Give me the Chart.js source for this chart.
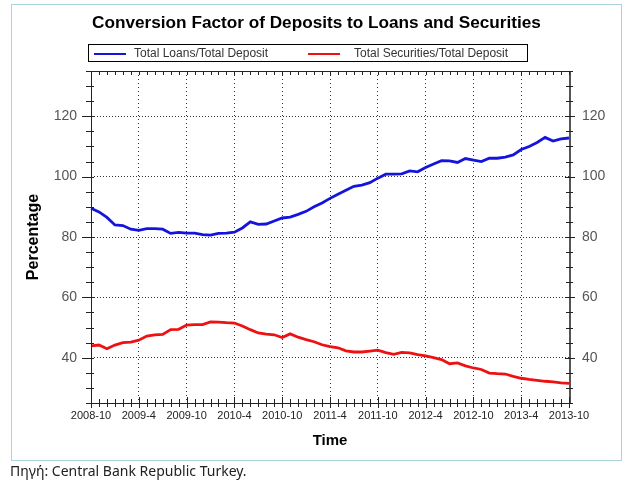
<!DOCTYPE html>
<html>
<head>
<meta charset="utf-8">
<script src="https://cdn.jsdelivr.net/npm/chart.js@4.4.1/dist/chart.umd.min.js"></script>
<style>
  html, body { margin:0; padding:0; background:#fff; }
  #page { position:relative; width:634px; height:483px; overflow:hidden; background:#fff; }
  #frame { position:absolute; left:11px; top:4px; width:611px; height:457px; box-sizing:border-box; border:1px solid #a9d3df; }
  #chart { position:absolute; left:0; top:0; }
  #title { position:absolute; left:0; top:12px; width:633px; text-align:center; font:bold 17.2px "Liberation Sans", Arial, sans-serif; color:#000; }
  #legend { position:absolute; left:88px; top:44px; width:440px; height:18px; box-sizing:border-box; border:1px solid #000; font:12px "Liberation Sans", Arial, sans-serif; color:#333; }
  .lg { position:absolute; top:1px; height:14px; line-height:14px; white-space:nowrap; }
  .lg i { position:absolute; left:0; top:7px; width:32px; height:2px; }
  .lg span { position:absolute; top:0; }
  #footer { position:absolute; left:10px; top:461px; font:14px "Noto Sans", "Open Sans", sans-serif; color:#222; white-space:nowrap; }
</style>
</head>
<body>
<div id="page">
  <div id="frame"></div>
  <canvas id="chart" width="634" height="483"></canvas>
  <div id="title">Conversion Factor of Deposits to Loans and Securities</div>
  <div id="legend"></div>
  <div id="footer">Πηγή: Central Bank Republic Turkey.</div>
</div>
<script>
const months = [
  '2008-10','2008-11','2008-12',
  '2009-1','2009-2','2009-3','2009-4','2009-5','2009-6','2009-7','2009-8','2009-9','2009-10','2009-11','2009-12',
  '2010-1','2010-2','2010-3','2010-4','2010-5','2010-6','2010-7','2010-8','2010-9','2010-10','2010-11','2010-12',
  '2011-1','2011-2','2011-3','2011-4','2011-5','2011-6','2011-7','2011-8','2011-9','2011-10','2011-11','2011-12',
  '2012-1','2012-2','2012-3','2012-4','2012-5','2012-6','2012-7','2012-8','2012-9','2012-10','2012-11','2012-12',
  '2013-1','2013-2','2013-3','2013-4','2013-5','2013-6','2013-7','2013-8','2013-9','2013-10'
];
const xTickLabels = ['2008-10','2009-4','2009-10','2010-4','2010-10','2011-4','2011-10','2012-4','2012-10','2013-4','2013-10'];
const yTicks = [40, 60, 80, 100, 120];

const loansToDeposit = [
  89.5, 88.3, 86.5,
  84.0, 83.8, 82.6, 82.2, 82.8, 82.8, 82.6, 81.2, 81.5, 81.3, 81.3, 80.8,
  80.6, 81.2, 81.3, 81.6, 83.0, 85.0, 84.2, 84.3, 85.3, 86.3, 86.6, 87.5,
  88.5, 90.0, 91.3, 92.8, 94.2, 95.5, 96.8, 97.2, 98.0, 99.5, 100.8, 100.8,
  100.9, 101.9, 101.6, 103.0, 104.2, 105.3, 105.2, 104.7, 106.0, 105.5, 105.0, 106.1,
  106.1, 106.5, 107.2, 109.0, 110.0, 111.3, 113.0, 111.8, 112.5, 112.8, 113.3
];
const securitiesToDeposit = [
  43.9, 44.2, 43.0,
  44.2, 45.0, 45.2, 45.8, 47.2, 47.6, 47.7, 49.3, 49.4, 50.8, 51.0, 51.0,
  51.9, 51.8, 51.6, 51.5, 50.5, 49.3, 48.2, 47.8, 47.6, 46.7, 47.9, 46.8,
  46.0, 45.3, 44.3, 43.7, 43.3, 42.3, 41.9, 41.9, 42.2, 42.5, 41.7, 41.1,
  41.8, 41.6, 41.0, 40.6, 40.0, 39.4, 38.0, 38.3, 37.3, 36.6, 36.1, 34.9,
  34.7, 34.6, 33.8, 33.2, 32.8, 32.5, 32.2, 32.0, 31.7, 31.5
];
const seriesNames = ['Total Loans/Total Deposit', 'Total Securities/Total Deposit'];
const seriesColors = ['#1414dc', '#ee1111'];

const datasets = [loansToDeposit, securitiesToDeposit].map((d, i) => ({
  label: seriesNames[i],
  data: d.slice(0, months.length),
  borderColor: seriesColors[i],
  backgroundColor: seriesColors[i],
  borderWidth: 2.8,
  pointRadius: 0,
  tension: 0,
  fill: false
}));

const legendEl = document.getElementById('legend');
const legendPos = [{line:5, text:45}, {line:219, text:265}];
datasets.forEach((ds, i) => {
  const item = document.createElement('div');
  item.className = 'lg';
  item.style.left = legendPos[i].line + 'px';
  item.innerHTML = '<i style="background:' + ds.borderColor + '"></i><span style="left:' + (legendPos[i].text - legendPos[i].line) + 'px">' + ds.label + '</span>';
  legendEl.appendChild(item);
});

const isMajor = (i) => xTickLabels.indexOf(months[i]) !== -1;

const frameTicks = {
  id: 'frameTicks',
  afterDatasetsDraw(chart) {
    const {ctx, chartArea: a, scales} = chart;
    const x = scales.x, y = scales.y;
    ctx.save();
    ctx.strokeStyle = '#222';
    ctx.lineWidth = 1;
    ctx.setLineDash([]);
    ctx.beginPath();
    ctx.moveTo(a.left + 0.5, a.top + 0.5);
    ctx.lineTo(a.right + 0.5, a.top + 0.5);
    ctx.moveTo(a.left + 0.5, a.top);
    ctx.lineTo(a.left + 0.5, a.bottom + 0.5);
    ctx.lineTo(a.right + 0.5, a.bottom + 0.5);
    ctx.stroke();
    ctx.strokeStyle = '#555';
    ctx.lineWidth = 2;
    ctx.beginPath();
    ctx.moveTo(a.right + 1, a.top);
    ctx.lineTo(a.right + 1, a.bottom + 1);
    ctx.stroke();
    ctx.strokeStyle = '#222';
    ctx.lineWidth = 1;
    ctx.beginPath();
    for (let i = 0; i < months.length; i++) {
      const px = Math.round(x.getPixelForValue(i)) + 0.5;
      const major = isMajor(i);
      ctx.moveTo(px, a.bottom - (major ? 6 : 4));
      ctx.lineTo(px, a.bottom + (major ? 5 : 4));
      ctx.moveTo(px, a.top);
      ctx.lineTo(px, a.top + 4);
    }
    for (let v = 25; v <= 135; v += 5) {
      const py = Math.round(y.getPixelForValue(v)) + 0.5;
      const major = yTicks.indexOf(v) !== -1;
      ctx.moveTo(a.left - (major ? 9 : 5), py);
      ctx.lineTo(a.left + 3, py);
      ctx.moveTo(a.right - (major ? 4 : 3), py);
      ctx.lineTo(a.right + (major ? 6 : 4), py);
    }
    ctx.stroke();
    ctx.restore();
  }
};

new Chart(document.getElementById('chart'), {
  type: 'line',
  data: { labels: months, datasets },
  options: {
    responsive: false,
    animation: false,
    devicePixelRatio: 1,
    layout: { padding: { top: 71, left: 0, right: 0, bottom: 0 } },
    plugins: { legend: { display: false }, title: { display: false }, tooltip: { enabled: false } },
    scales: {
      x: {
        type: 'category',
        offset: false,
        border: { display: false, dash: [1, 3] },
        grid: {
          drawTicks: false,
          tickLength: 0,
          lineWidth: 1,
          color: (c) => (isMajor(c.index) && c.index !== 0 && c.index !== months.length - 1) ? '#333' : 'rgba(0,0,0,0)'
        },
        ticks: {
          autoSkip: false,
          maxRotation: 0,
          minRotation: 0,
          padding: 6,
          color: '#222',
          font: { family: '"Liberation Sans", Arial, sans-serif', size: 11 },
          callback: (v, i) => isMajor(i) ? months[i] : ''
        },
        title: {
          display: true,
          text: 'Time',
          color: '#000',
          font: { family: '"Liberation Sans", Arial, sans-serif', size: 15, weight: 'bold' },
          padding: { top: 0, bottom: 33 }
        },
        afterFit: (s) => { s.height = 80; }
      },
      y: {
        type: 'linear',
        position: 'left',
        min: 25,
        max: 135,
        afterBuildTicks: (s) => { s.ticks = yTicks.map(v => ({ value: v })); },
        border: { display: false, dash: [1, 2] },
        grid: { drawTicks: false, tickLength: 0, color: '#333', lineWidth: 1 },
        ticks: {
          padding: 14,
          color: '#555',
          font: { family: '"Liberation Sans", Arial, sans-serif', size: 14 }
        },
        title: {
          display: true,
          text: 'Percentage',
          color: '#000',
          font: { family: '"Liberation Sans", Arial, sans-serif', size: 16, weight: 'bold' },
          padding: { top: 24, bottom: 0 }
        },
        afterFit: (s) => { s.width = 91; }
      },
      y2: {
        type: 'linear',
        position: 'right',
        min: 25,
        max: 135,
        afterBuildTicks: (s) => { s.ticks = yTicks.map(v => ({ value: v })); },
        border: { display: false },
        grid: { display: false, drawTicks: false, tickLength: 0 },
        ticks: {
          padding: 13,
          color: '#555',
          font: { family: '"Liberation Sans", Arial, sans-serif', size: 14 }
        },
        afterFit: (s) => { s.width = 65; }
      }
    }
  },
  plugins: [frameTicks]
});
</script>
</body>
</html>
